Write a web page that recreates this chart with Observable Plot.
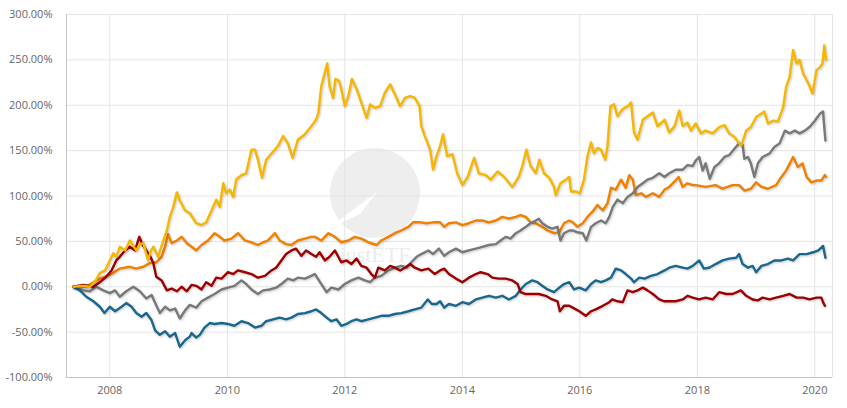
<!DOCTYPE html>
<html>
<head>
<meta charset="utf-8">
<script src="https://cdn.jsdelivr.net/npm/d3@7"></script>
<script src="https://cdn.jsdelivr.net/npm/@observablehq/plot@0.6"></script>
<style>
  html, body { margin: 0; padding: 0; background: #fff; }
  #wrap { position: relative; width: 847px; height: 408px; }
  #wm { position: absolute; left: 0; top: 0; z-index: 0; }
  #chart { position: absolute; left: 0; top: 0; z-index: 1; }
  #chart g[aria-label="line"] path { filter: drop-shadow(1px 1px 1px rgba(0,0,0,0.22)); }
</style>
</head>
<body>
<div id="wrap">
  <svg id="wm" width="847" height="408">
    <circle cx="375" cy="193" r="45" fill="#eeeeee"></circle>
    <polygon points="326,230 378,191 360,214" fill="#ffffff"></polygon>
    <text x="375" y="262" text-anchor="middle" font-family="Georgia, serif" font-size="22" fill="#ececec">justETF</text>
  </svg>
  <div id="chart"></div>
</div>
<script>
// decimal-year readings [time, % change]
const gold = [[2007.38,0],[2007.55,1],[2007.66,0],[2007.75,6],[2007.83,15],[2007.92,18],[2008.0,29],[2008.06,37],[2008.11,33],[2008.17,44],[2008.26,40],[2008.34,51],[2008.40,45],[2008.45,40],[2008.51,47],[2008.57,48],[2008.65,29],[2008.70,40],[2008.74,44],[2008.82,33],[2008.91,51],[2008.97,62],[2009.02,77],[2009.08,88],[2009.14,104],[2009.19,95],[2009.28,84],[2009.36,81],[2009.47,70],[2009.56,68],[2009.64,71],[2009.73,84],[2009.81,96],[2009.87,88],[2009.93,114],[2009.98,103],[2010.04,107],[2010.10,99],[2010.15,118],[2010.24,123],[2010.32,125],[2010.41,151],[2010.47,151],[2010.52,140],[2010.59,120],[2010.66,140],[2010.78,149],[2010.86,155],[2010.95,166],[2011.03,158],[2011.11,142],[2011.20,162],[2011.32,168],[2011.43,177],[2011.51,184],[2011.55,192],[2011.60,221],[2011.66,236],[2011.70,246],[2011.74,221],[2011.80,208],[2011.84,229],[2011.90,227],[2011.94,218],[2012.0,199],[2012.06,210],[2012.12,229],[2012.20,218],[2012.28,203],[2012.37,186],[2012.43,201],[2012.51,197],[2012.60,199],[2012.68,214],[2012.77,223],[2012.85,212],[2012.94,199],[2013.02,208],[2013.11,210],[2013.19,208],[2013.27,199],[2013.30,177],[2013.36,166],[2013.45,151],[2013.50,129],[2013.56,144],[2013.62,155],[2013.67,168],[2013.74,144],[2013.83,146],[2013.91,125],[2014.0,112],[2014.09,121],[2014.2,142],[2014.28,125],[2014.4,123],[2014.48,118],[2014.6,127],[2014.71,121],[2014.85,110],[2014.96,121],[2015.02,133],[2015.09,151],[2015.16,133],[2015.25,125],[2015.31,140],[2015.39,125],[2015.48,120],[2015.56,110],[2015.59,101],[2015.67,114],[2015.76,118],[2015.82,121],[2015.85,105],[2015.93,105],[2016.0,103],[2016.07,118],[2016.13,144],[2016.19,159],[2016.24,147],[2016.30,153],[2016.36,151],[2016.43,140],[2016.47,155],[2016.52,199],[2016.58,201],[2016.64,188],[2016.73,196],[2016.81,199],[2016.87,203],[2016.92,170],[2016.98,162],[2017.07,184],[2017.15,188],[2017.24,192],[2017.32,177],[2017.44,184],[2017.52,170],[2017.61,177],[2017.69,194],[2017.75,177],[2017.83,181],[2017.89,172],[2017.97,180],[2018.06,169],[2018.14,172],[2018.26,169],[2018.37,176],[2018.46,178],[2018.54,169],[2018.63,165],[2018.71,158],[2018.75,156],[2018.83,172],[2018.91,176],[2019.0,187],[2019.09,191],[2019.14,193],[2019.20,180],[2019.29,183],[2019.37,182],[2019.46,198],[2019.51,220],[2019.57,231],[2019.63,261],[2019.69,246],[2019.74,250],[2019.80,235],[2019.89,224],[2019.96,213],[2020.03,239],[2020.09,242],[2020.13,246],[2020.16,266],[2020.19,250]];

const orange = [[2007.38,0],[2007.60,0],[2007.72,5],[2007.83,9],[2008.0,13],[2008.17,20],[2008.34,22],[2008.45,20],[2008.57,22],[2008.68,26],[2008.79,27],[2008.88,33],[2008.94,44],[2008.99,58],[2009.05,48],[2009.14,51],[2009.22,55],[2009.31,48],[2009.39,44],[2009.47,40],[2009.56,46],[2009.67,51],[2009.78,59],[2009.87,55],[2009.95,51],[2010.07,53],[2010.18,59],[2010.30,51],[2010.41,49],[2010.52,46],[2010.61,49],[2010.69,51],[2010.81,59],[2010.89,51],[2011.0,47],[2011.09,46],[2011.20,51],[2011.32,53],[2011.43,55],[2011.49,55],[2011.60,51],[2011.72,59],[2011.83,55],[2011.94,49],[2012.06,51],[2012.17,55],[2012.28,53],[2012.40,49],[2012.54,46],[2012.62,51],[2012.74,55],[2012.85,59],[2012.96,62],[2013.08,66],[2013.16,71],[2013.28,71],[2013.39,70],[2013.50,71],[2013.62,71],[2013.69,66],[2013.77,70],[2013.89,71],[2014.0,68],[2014.11,70],[2014.23,73],[2014.34,73],[2014.45,71],[2014.57,73],[2014.68,77],[2014.79,75],[2014.91,77],[2014.99,79],[2015.08,77],[2015.16,71],[2015.25,70],[2015.36,66],[2015.45,62],[2015.56,59],[2015.65,60],[2015.73,70],[2015.82,73],[2015.88,71],[2015.96,66],[2016.05,70],[2016.13,77],[2016.22,83],[2016.30,90],[2016.39,84],[2016.47,92],[2016.53,109],[2016.61,107],[2016.70,118],[2016.78,109],[2016.84,123],[2016.90,118],[2016.95,101],[2017.04,103],[2017.12,99],[2017.24,103],[2017.35,99],[2017.44,107],[2017.52,110],[2017.61,116],[2017.68,121],[2017.75,110],[2017.83,114],[2017.92,112],[2017.97,112],[2018.14,110],[2018.31,112],[2018.43,108],[2018.60,112],[2018.71,112],[2018.80,106],[2018.91,108],[2019.0,115],[2019.09,110],[2019.20,108],[2019.34,112],[2019.43,121],[2019.51,128],[2019.63,143],[2019.71,132],[2019.79,136],[2019.86,121],[2019.94,115],[2020.03,117],[2020.11,117],[2020.17,123],[2020.19,121]];

const gray = [[2007.38,0],[2007.55,-4],[2007.66,-5],[2007.77,0],[2007.89,-4],[2008.0,-7],[2008.09,-4],[2008.17,-11],[2008.28,-5],[2008.40,0],[2008.51,-5],[2008.62,-13],[2008.71,-9],[2008.77,-18],[2008.85,-29],[2008.94,-22],[2009.02,-26],[2009.11,-24],[2009.19,-35],[2009.28,-26],[2009.36,-20],[2009.47,-23],[2009.56,-16],[2009.67,-12],[2009.78,-8],[2009.90,-3],[2010.01,-1],[2010.12,1],[2010.24,7],[2010.32,3],[2010.41,-3],[2010.52,-8],[2010.61,-4],[2010.72,-3],[2010.83,-1],[2010.92,3],[2011.03,9],[2011.12,7],[2011.20,10],[2011.32,9],[2011.43,12],[2011.49,14],[2011.60,3],[2011.69,-6],[2011.77,-1],[2011.89,-3],[2012.0,3],[2012.11,7],[2012.23,10],[2012.34,7],[2012.43,5],[2012.51,10],[2012.62,12],[2012.74,18],[2012.85,21],[2012.96,23],[2013.05,21],[2013.13,27],[2013.22,33],[2013.30,36],[2013.42,40],[2013.50,36],[2013.60,42],[2013.69,34],[2013.77,38],[2013.89,42],[2014.0,38],[2014.11,40],[2014.23,42],[2014.34,44],[2014.45,46],[2014.57,47],[2014.65,51],[2014.74,55],[2014.82,53],[2014.91,59],[2014.99,62],[2015.08,66],[2015.16,70],[2015.25,73],[2015.30,75],[2015.36,70],[2015.45,66],[2015.53,64],[2015.62,66],[2015.67,51],[2015.73,59],[2015.82,62],[2015.88,62],[2015.96,60],[2016.05,59],[2016.11,51],[2016.19,66],[2016.27,70],[2016.36,73],[2016.44,70],[2016.50,77],[2016.56,88],[2016.64,96],[2016.73,92],[2016.81,99],[2016.90,103],[2016.98,110],[2017.07,114],[2017.15,118],[2017.24,120],[2017.35,125],[2017.44,121],[2017.52,125],[2017.63,129],[2017.75,129],[2017.83,134],[2017.92,133],[2017.97,139],[2018.03,143],[2018.09,128],[2018.14,136],[2018.21,119],[2018.29,132],[2018.37,136],[2018.46,143],[2018.54,145],[2018.63,152],[2018.71,158],[2018.77,156],[2018.80,141],[2018.86,143],[2018.91,136],[2018.97,121],[2019.03,136],[2019.11,143],[2019.23,147],[2019.31,154],[2019.40,158],[2019.49,172],[2019.57,169],[2019.66,172],[2019.74,169],[2019.83,172],[2019.91,176],[2020.0,183],[2020.09,191],[2020.14,193],[2020.16,176],[2020.18,161]];

const red = [[2007.38,0],[2007.55,2],[2007.72,0],[2007.83,5],[2007.94,11],[2008.03,18],[2008.11,29],[2008.17,33],[2008.26,40],[2008.34,44],[2008.43,40],[2008.50,55],[2008.56,46],[2008.62,40],[2008.69,33],[2008.74,26],[2008.79,11],[2008.88,7],[2008.97,-4],[2009.05,-2],[2009.14,-5],[2009.22,0],[2009.31,-5],[2009.39,2],[2009.47,1],[2009.56,-3],[2009.64,5],[2009.73,1],[2009.81,10],[2009.90,9],[2010.01,16],[2010.10,14],[2010.18,18],[2010.30,16],[2010.41,14],[2010.52,10],[2010.64,12],[2010.75,18],[2010.83,21],[2010.92,29],[2011.0,36],[2011.09,40],[2011.17,42],[2011.26,34],[2011.34,40],[2011.43,36],[2011.51,33],[2011.57,38],[2011.66,29],[2011.74,33],[2011.83,40],[2011.94,27],[2012.03,29],[2012.11,25],[2012.20,31],[2012.28,23],[2012.37,21],[2012.45,14],[2012.51,10],[2012.57,21],[2012.68,18],[2012.77,23],[2012.85,21],[2012.94,18],[2013.02,21],[2013.11,25],[2013.19,21],[2013.30,18],[2013.42,20],[2013.53,14],[2013.62,18],[2013.69,20],[2013.77,14],[2013.89,9],[2014.0,5],[2014.11,10],[2014.23,14],[2014.31,16],[2014.43,14],[2014.51,10],[2014.62,9],[2014.74,9],[2014.85,7],[2014.94,3],[2014.99,-6],[2015.08,-8],[2015.19,-8],[2015.30,-8],[2015.42,-10],[2015.53,-14],[2015.62,-16],[2015.66,-27],[2015.73,-21],[2015.82,-21],[2015.88,-23],[2015.99,-27],[2016.10,-32],[2016.19,-27],[2016.27,-25],[2016.39,-21],[2016.50,-17],[2016.55,-14],[2016.64,-16],[2016.73,-17],[2016.81,-4],[2016.90,-6],[2016.98,-4],[2017.07,-1],[2017.15,-4],[2017.24,-8],[2017.35,-14],[2017.44,-16],[2017.52,-16],[2017.63,-16],[2017.75,-14],[2017.83,-10],[2017.92,-12],[2018.03,-14],[2018.14,-12],[2018.26,-14],[2018.37,-6],[2018.49,-8],[2018.60,-8],[2018.74,-4],[2018.83,-10],[2018.94,-14],[2019.03,-15],[2019.11,-12],[2019.23,-14],[2019.34,-12],[2019.46,-10],[2019.57,-8],[2019.69,-12],[2019.80,-12],[2019.91,-14],[2020.03,-12],[2020.11,-12],[2020.14,-17],[2020.17,-21]];

const blue = [[2007.38,0],[2007.49,-4],[2007.60,-11],[2007.72,-16],[2007.83,-22],[2007.91,-29],[2008.0,-22],[2008.09,-27],[2008.20,-22],[2008.28,-18],[2008.37,-22],[2008.45,-29],[2008.54,-33],[2008.62,-29],[2008.71,-37],[2008.77,-48],[2008.85,-53],[2008.94,-49],[2009.02,-55],[2009.11,-51],[2009.19,-66],[2009.28,-59],[2009.36,-55],[2009.39,-51],[2009.47,-56],[2009.53,-53],[2009.61,-45],[2009.70,-40],[2009.78,-41],[2009.90,-40],[2010.01,-41],[2010.12,-43],[2010.24,-38],[2010.35,-40],[2010.47,-45],[2010.58,-43],[2010.66,-38],[2010.78,-36],[2010.89,-34],[2011.0,-36],[2011.09,-34],[2011.20,-30],[2011.32,-29],[2011.43,-27],[2011.51,-25],[2011.60,-29],[2011.69,-34],[2011.77,-38],[2011.86,-36],[2011.94,-43],[2012.03,-41],[2012.11,-38],[2012.20,-36],[2012.28,-38],[2012.40,-36],[2012.51,-34],[2012.62,-32],[2012.74,-32],[2012.85,-30],[2012.96,-29],[2013.08,-27],[2013.19,-25],[2013.30,-23],[2013.41,-14],[2013.48,-19],[2013.56,-19],[2013.62,-16],[2013.69,-23],[2013.77,-19],[2013.89,-21],[2014.0,-17],[2014.11,-19],[2014.23,-14],[2014.34,-12],[2014.45,-10],[2014.57,-12],[2014.68,-10],[2014.79,-14],[2014.91,-10],[2014.99,-3],[2015.08,3],[2015.19,7],[2015.28,5],[2015.36,1],[2015.45,-3],[2015.56,-6],[2015.65,-1],[2015.73,3],[2015.82,5],[2015.90,-3],[2015.99,-1],[2016.10,-4],[2016.19,3],[2016.27,7],[2016.36,5],[2016.44,7],[2016.53,10],[2016.61,20],[2016.70,18],[2016.78,14],[2016.87,9],[2016.92,5],[2017.01,10],[2017.10,9],[2017.21,12],[2017.32,14],[2017.44,18],[2017.52,21],[2017.63,23],[2017.75,21],[2017.83,20],[2017.92,23],[2018.03,29],[2018.11,20],[2018.20,21],[2018.31,25],[2018.43,29],[2018.54,31],[2018.66,32],[2018.71,36],[2018.77,25],[2018.86,21],[2018.94,23],[2019.0,16],[2019.09,23],[2019.20,25],[2019.31,29],[2019.43,29],[2019.54,31],[2019.63,29],[2019.74,36],[2019.86,36],[2019.97,38],[2020.06,40],[2020.14,45],[2020.18,32]];

const seriesColors = { gold: "#f6b700", orange: "#ef8000", gray: "#787878", red: "#9c0000", blue: "#19678f" };
const xTickYears = [2008, 2010, 2012, 2014, 2016, 2018, 2020];
const yTicks = [-100, -50, 0, 50, 100, 150, 200, 250, 300];
const xDomainYears = [2007.263, 2020.30];

function toDate(t) {
  const y = Math.floor(t);
  const start = Date.UTC(y, 0, 1), end = Date.UTC(y + 1, 0, 1);
  return new Date(start + (t - y) * (end - start));
}
const xTicks = xTickYears.map(y => new Date(Date.UTC(y, 0, 1)));
const xDomain = xDomainYears.map(toDate);

const lineOf = (data, color) => Plot.line(data, {
  x: d => toDate(d[0]), y: d => d[1], stroke: color, strokeWidth: 2.4,
  strokeLinejoin: "round", strokeLinecap: "round"
});

const chart = Plot.plot({
  width: 847, height: 408,
  marginLeft: 66, marginRight: 15, marginTop: 14, marginBottom: 31,
  style: { fontFamily: "'Open Sans', 'DejaVu Sans', sans-serif", fontSize: "11px", color: "#666", background: "transparent", overflow: "visible" },
  x: { type: "utc", domain: xDomain, ticks: xTicks, tickFormat: "%Y", tickSize: 0, tickPadding: 9, label: null },
  y: { domain: [-100, 300], ticks: yTicks, tickFormat: d => d.toFixed(2) + "%", tickSize: 0, tickPadding: 14, label: null },
  marks: [
    Plot.gridX(xTicks, { stroke: "#e4e4e4", strokeOpacity: 1 }),
    Plot.gridY(yTicks, { stroke: "#e4e4e4", strokeOpacity: 1 }),
    Plot.ruleX([xDomain[1]], { stroke: "#e4e4e4" }),
    Plot.ruleX([xDomain[0]], { stroke: "#c4c4c4" }),
    Plot.ruleY([-100], { stroke: "#c4c4c4" }),
    lineOf(orange, seriesColors.orange),
    lineOf(gray, seriesColors.gray),
    lineOf(blue, seriesColors.blue),
    lineOf(red, seriesColors.red),
    lineOf(gold, seriesColors.gold)
  ]
});
document.getElementById("chart").appendChild(chart);
</script>
</body>
</html>
